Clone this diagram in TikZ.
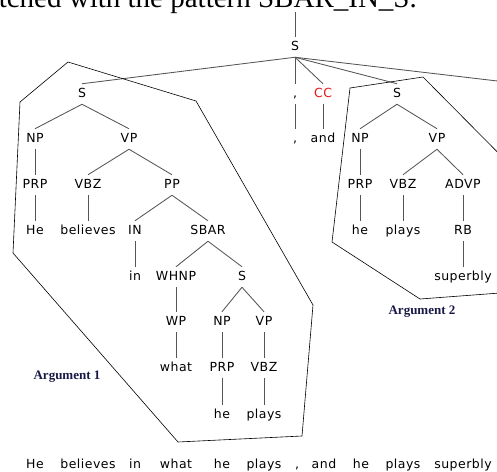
\documentclass[tikz,border=0pt]{standalone}
\usepackage{fontspec}
\newfontfamily\treefont[LetterSpace=4]{DejaVu Sans}
\newfontfamily\paperfont{Liberation Serif}
\usepackage{tikz}
\usetikzlibrary{positioning}
\definecolor{ccred}{RGB}{235,25,25}
\definecolor{argcolor}{RGB}{25,25,70}
\definecolor{edgegray}{RGB}{85,85,85}

\tikzset{
  cat/.style={font=\treefont\fontsize{12.5}{14}\selectfont, inner xsep=1pt, inner ysep=4.3pt,
    text height=9pt, text depth=2.5pt},
  edge/.style={draw=edgegray, line width=0.85pt},
  hull/.style={draw=black, line width=0.6pt},
  arglabel/.style={font=\paperfont\bfseries\fontsize{13}{15}\selectfont, text=argcolor}
}

\begin{document}
\begin{tikzpicture}[x=1pt,y=-1pt]
  \useasboundingbox (0,0) rectangle (497,471);
  \clip (0,0) rectangle (497,471);
  % caption line of the paper, cut off at the top
  \node[font=\paperfont\fontsize{29}{30}\selectfont, anchor=base east, inner sep=0pt] (caption)
    at (417,7) {matched with the pattern SBAR\_IN\_S.};

  % root and first level
  \node[cat] (root) at (295,47) {S};
  \node[cat] (sL) at (82,94) {S};
  \node[cat] (commaP) at (295,94) {,};
  \node[cat, text=ccred] (cc) at (323,94) {CC};
  \node[cat] (sR) at (397,94) {S};
  \coordinate (up) at (295,12);
  \coordinate (rest) at (540,86);

  % left clause: He believes in what he plays
  \node[cat] (npL) at (35,139) {NP};
  \node[cat] (vpL) at (129,139) {VP};
  \node[cat] (prpL) at (35,185) {PRP};
  \node[cat] (vbzL) at (88,185) {VBZ};
  \node[cat] (ppL) at (172,185) {PP};
  \node[cat] (heL) at (35,231) {He};
  \node[cat] (believesL) at (88,231) {believes};
  \node[cat] (inL) at (135,231) {IN};
  \node[cat] (sbar) at (208,231) {SBAR};
  \node[cat] (inW) at (135,277) {in};
  \node[cat] (whnp) at (176,277) {WHNP};
  \node[cat] (sS) at (242,277) {S};
  \node[cat] (wp) at (176,322) {WP};
  \node[cat] (npS) at (222,322) {NP};
  \node[cat] (vpS) at (264,322) {VP};
  \node[cat] (whatW) at (176,368) {what};
  \node[cat] (prpS) at (222,368) {PRP};
  \node[cat] (vbzS) at (264,368) {VBZ};
  \node[cat] (heS) at (222,415) {he};
  \node[cat] (playsS) at (264,415) {plays};

  % comma and conjunction
  \node[cat] (commaW) at (295,139) {,};
  \node[cat] (andW) at (323,139) {and};

  % right clause: he plays superbly
  \node[cat] (npR) at (360,139) {NP};
  \node[cat] (vpR) at (437,139) {VP};
  \node[cat] (prpR) at (360,185) {PRP};
  \node[cat] (vbzR) at (403,185) {VBZ};
  \node[cat] (advp) at (463,185) {ADVP};
  \node[cat] (heR) at (360,231) {he};
  \node[cat] (playsR) at (403,231) {plays};
  \node[cat] (rb) at (463,231) {RB};
  \node[cat] (superblyW) at (463,277) {superbly};

  % tree edges
  \draw[edge] (up) -- (root.north);
  \draw[edge] (root.south) -- (rest);
  \foreach \a/\b in {root/sL, root/commaP, root/cc, root/sR,
      sL/npL, sL/vpL, npL/prpL, vpL/vbzL, vpL/ppL, prpL/heL, vbzL/believesL,
      ppL/inL, ppL/sbar, inL/inW, sbar/whnp, sbar/sS, whnp/wp, sS/npS, sS/vpS,
      wp/whatW, npS/prpS, vpS/vbzS, prpS/heS, vbzS/playsS,
      commaP/commaW, cc/andW,
      sR/npR, sR/vpR, npR/prpR, vpR/vbzR, vpR/advp, prpR/heR, vbzR/playsR,
      advp/rb, rb/superblyW}
    \draw[edge] (\a.south) -- (\b.north);

  % argument hulls
  \draw[hull] (68,62) -- (196,101) -- (313,305) -- (302,436) -- (178,442)
    -- (13,253) -- (20,102) -- cycle;
  \draw[hull] (540,290) -- (420,299) -- (332,242) -- (350,88) -- (423,77) -- (540,195);
  \node[arglabel] (arg1) at (67,377) {Argument 1};
  \node[arglabel] (arg2) at (422,312) {Argument 2};

  % the sentence
  \foreach \w/\x [count=\i] in {He/35, believes/88, in/135, what/176, he/222, plays/264,
      {,}/297, and/324, he/361, plays/403, superbly/463}
    \node[cat] (word\i) at (\x,465) {\w};
\end{tikzpicture}
\end{document}
